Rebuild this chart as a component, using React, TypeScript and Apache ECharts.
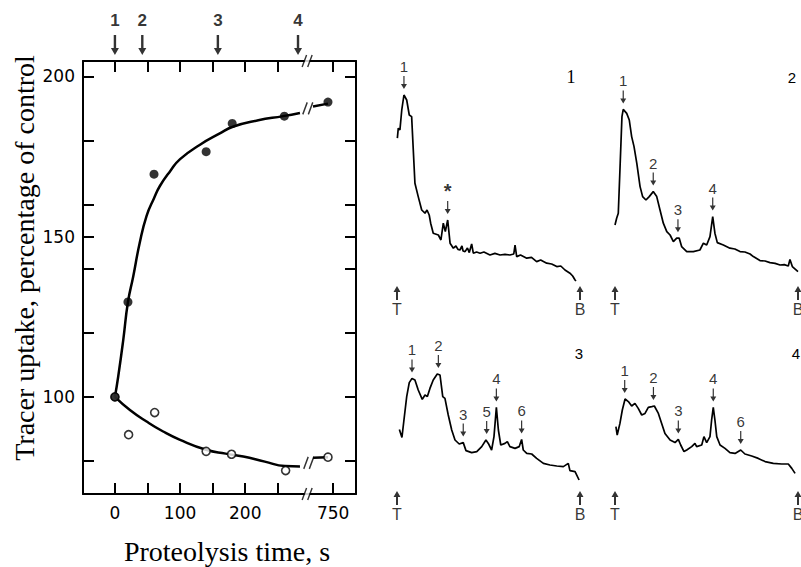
import React, { useEffect, useRef } from 'react';
import * as echarts from 'echarts';

// ---- Main panel data (proteolysis time in s, tracer uptake in % of control) ----
const filledTimes = [0, 20, 60, 140, 180, 260, 742];
const filledUptake = [100, 129.6, 169.5, 176.5, 185.3, 187.6, 192];
const openTimes = [0, 21, 61, 140, 179, 262, 742];
const openUptake = [100, 88.2, 95.1, 83, 82.1, 77, 81.2];

const filledFitTimes = [0, 5, 12.8, 20, 28, 38, 48.6, 60, 69, 85, 100, 130, 161, 181, 220, 258, 284, 719, 742];
const filledFitUptake = [100, 106.3, 117.8, 129.6, 137.5, 148, 156.5, 162, 165.8, 170.5, 174.2, 178.6, 182.2, 184.3, 186.3, 187.6, 188.6, 190.6, 191.5];
const openFitTimes = [0, 23, 48.6, 74, 100, 140, 170, 197, 230, 261, 284, 719, 742];
const openFitUptake = [100, 95.9, 92.3, 89.2, 86.6, 83.5, 82.3, 81.4, 79.8, 78.4, 78.3, 81, 81.2];

const sampleTimes = [0, 42, 158, 281];
const sampleLabels = ['1', '2', '3', '4'];

const xTickTimes = [0, 50, 100, 150, 200, 250, 750];
const xLabelTimes = [0, 100, 200, 750];
const yTickValues = [80, 100, 120, 140, 150, 160, 180, 200];
const yLabelValues = [100, 150, 200];

const Y_MIN = 69.7;
const Y_MAX = 204.8;

// break marks (display coordinate, value)
const frameBreakX = 295;
const filledBreakMark = [296, 190];
const openBreakMark = [297.5, 79.4];

// ---- Densitometer traces: [position T->B (0-100), signal] ----
const trace1 = [[0.2,73.4],[0.7,78.4],[1.6,77.5],[2.6,87.5],[3.8,95],[5.3,92.5],[6.7,85],[8.0,84.2],[8.9,67.5],[9.8,50.9],[11.6,44.2],[13.5,37.5],[15.3,35.9],[16.4,37.5],[17.6,35],[18.4,30.9],[19.8,25.9],[22.6,25],[24.0,22.5],[25.3,30.9],[26.4,26.7],[27.7,32.5],[29.0,20.9],[30.8,18.4],[32.2,19.5],[33.3,17.8],[34.4,17.5],[35.5,19.5],[36.1,17],[37.2,16.7],[38.5,18.5],[39.5,16.2],[40.8,20.5],[41.7,15.9],[43.5,16.5],[45.4,15.9],[47.5,16.5],[50.8,15],[53.5,15.8],[56.3,15],[59,15.3],[61.7,15],[63.8,15.5],[64.5,20],[65.4,14.2],[67.5,15],[70.9,13.4],[73.5,13.8],[76.3,11.7],[78.5,12.5],[81.8,10.9],[84.5,10.5],[87.3,9.2],[89.5,9.5],[91.8,7.5],[94.5,5.9],[96,4.5],[97.3,2.5],[97.8,2]];
const trace2 = [[0,30],[0.9,33.4],[1.8,35.9],[2.7,57.5],[3.8,84.2],[4.5,87.8],[6.4,85.8],[7.8,82.5],[9.1,74.2],[10.4,69.2],[11.9,60.9],[13.7,49.2],[15.1,44.2],[16.9,42.5],[18.7,44.2],[20.9,46.7],[22.8,44.2],[24.6,37.5],[26.4,30.9],[28.3,26.7],[30.1,25],[31.9,21.7],[33.7,23.4],[35.1,23.4],[36.4,19.2],[39.2,16.7],[42.8,16.7],[46.4,17.5],[48.3,20.9],[50.1,20],[51.9,24.2],[53.4,34.2],[54.6,25.9],[55.9,21.2],[59.2,20],[62.8,18.4],[65.5,18],[68.3,16.7],[71,16.5],[73.8,15.5],[75.6,14.2],[79.2,12.2],[82,12],[84.7,11.2],[87.5,10.8],[90.2,10],[92.5,10.2],[94.7,9.5],[95.6,12.8],[96.9,9.2],[100,6.7]];
const trace3 = [[1.3,30.3],[2.7,26.3],[3.8,35],[5.3,46.7],[6.7,53.7],[8.2,55.8],[9.8,55],[11.6,50],[13.8,45.3],[15.3,47.5],[16.6,46.7],[18.0,50.8],[19.8,55],[22.0,58],[23.5,57.5],[25.0,46.7],[26.2,45.8],[28.0,37.5],[29.9,30],[31.7,25],[34.0,23],[36.2,23.7],[37.7,19.7],[40.8,18.7],[43.6,19.2],[46.3,21.7],[48.6,25],[49.9,23.3],[51.7,20],[53.0,26.7],[54.3,41.3],[55.4,30],[56.7,22.5],[59.0,23.3],[60.3,24.2],[61.7,21.7],[64.5,20.8],[66.8,21.7],[68.1,25.3],[69.0,20],[70.9,18.3],[73.6,18],[76.3,15.8],[80.0,13.3],[83.6,12.5],[87.3,12],[90.9,11.7],[93.6,13.3],[94.5,9.7],[97.3,9.2],[99.5,5]];
const trace4 = [[0.5,31.7],[1.2,27.5],[2.7,33.3],[4.0,40],[5.5,45.5],[7.3,44.2],[9.1,42],[10.9,43.3],[12.7,40.8],[14.6,37.5],[16.4,38.3],[18.2,41.3],[20.1,41.7],[21.5,42],[23.7,38.3],[25.5,33.3],[27.3,28.3],[30.1,25],[32.8,23.7],[34.6,25.3],[35.9,22.5],[37.7,19.2],[39.2,20],[41.9,21.7],[43.7,23.3],[44.6,21.7],[47.4,22.5],[48.6,26.7],[50.1,23.7],[51.9,26.7],[52.8,35],[53.7,41.3],[54.6,35],[55.6,26.7],[57.4,22.5],[60.1,20.8],[62.8,18.7],[65.6,18.3],[68.7,20],[71.0,18],[74.7,17],[78.3,15.8],[82.0,14.2],[86.5,13.3],[91.1,13],[94.7,13],[96.6,10.8],[98.4,8.3]];

const peaks1 = [[3.8, 95, '1'], [27.7, 32.5, '*']];
const peaks2 = [[4.5, 87.8, '1'], [20.9, 46.7, '2'], [34.4, 23.4, '3'], [53.4, 34.2, '4']];
const peaks3 = [[8.2, 55.8, '1'], [22.6, 58, '2'], [36.2, 23.7, '3'], [49.0, 25, '5'], [54.3, 41.3, '4'], [68.1, 25.3, '6']];
const peaks4 = [[5.3, 45.5, '1'], [21, 42, '2'], [34.6, 25.3, '3'], [53.7, 41.3, '4'], [68.7, 20, '6']];

const panelNumbers = ['1', '2', '3', '4'];

const disp = (t: number) => (t > 300 ? 335 + (t - 750) : t);

const ARROW_DOWN = 'path://M2.8,0 L5.2,0 L5.2,13 L8,13 L4,20 L0,13 L2.8,13 Z';
const ARROW_DOWN_SMALL = 'path://M2.4,0 L3.6,0 L3.6,8 L6,8 L3,13 L0,8 L2.4,8 Z';
const ARROW_UP = 'path://M3.5,0 L7,6 L4.5,6 L4.5,14 L2.5,14 L2.5,6 L0,6 Z';
const SLASHES = 'path://M0,12 L4,0 M5,12 L9,0';

function fitData(times: number[], vals: number[]) {
  const out: any[] = [];
  times.forEach((t, i) => {
    if (i > 0 && times[i - 1] <= 300 && t > 300) out.push([null, null]);
    out.push([disp(t), vals[i]]);
  });
  return out;
}

const FONT_SANS = 'DejaVu Sans';
const BLACK = '#000000';

export default function App() {
  const ref = useRef<HTMLDivElement>(null);
  useEffect(() => {
    document.body.style.margin = '0';
    if (!ref.current) return;
    const chart = echarts.init(ref.current, undefined, { renderer: 'svg' });

    const panelGrids = [
      { left: 397, top: 85, width: 183, height: 200 },
      { left: 615, top: 85, width: 183, height: 200 },
      { left: 397, top: 290, width: 183, height: 200 },
      { left: 615, top: 290, width: 183, height: 200 },
    ];
    const traces = [trace1, trace2, trace3, trace4];
    const peaks = [peaks1, peaks2, peaks3, peaks4];

    const xLabelDisp = xLabelTimes.map(disp);

    const mainAxisLine = { show: true, onZero: false, lineStyle: { color: BLACK, width: 2 } };
    const tickStyle = { color: BLACK, width: 2 };

    const xAxes: any[] = [
      {
        type: 'value', gridIndex: 0, min: -49, max: 370, position: 'bottom',
        axisLine: mainAxisLine,
        axisTick: { show: true, inside: true, length: 11, customValues: xTickTimes.map(disp), lineStyle: tickStyle },
        axisLabel: {
          show: true, customValues: xLabelDisp, margin: 10, color: BLACK, fontSize: 17, fontFamily: FONT_SANS,
          formatter: (v: number) => {
            const i = xLabelDisp.findIndex((d) => Math.abs(d - v) < 0.01);
            return i >= 0 ? String(xLabelTimes[i]) : '';
          },
        },
        splitLine: { show: false },
      },
      {
        type: 'value', gridIndex: 0, min: -49, max: 370, position: 'top',
        axisLine: mainAxisLine,
        axisTick: { show: true, inside: true, length: 11, customValues: xTickTimes.map(disp), lineStyle: tickStyle },
        axisLabel: { show: false },
        splitLine: { show: false },
      },
    ];
    const yAxes: any[] = [
      {
        type: 'value', gridIndex: 0, min: Y_MIN, max: Y_MAX, position: 'left',
        axisLine: mainAxisLine,
        axisTick: { show: true, inside: true, length: 11, customValues: yTickValues, lineStyle: tickStyle },
        axisLabel: { show: true, customValues: yLabelValues, margin: 8, color: BLACK, fontSize: 17, fontFamily: FONT_SANS },
        splitLine: { show: false },
      },
      {
        type: 'value', gridIndex: 0, min: Y_MIN, max: Y_MAX, position: 'right',
        axisLine: mainAxisLine,
        axisTick: { show: true, inside: true, length: 11, customValues: yTickValues, lineStyle: tickStyle },
        axisLabel: { show: false },
        splitLine: { show: false },
      },
    ];
    panelGrids.forEach((_, i) => {
      xAxes.push({ type: 'value', gridIndex: i + 1, min: 0, max: 100, show: false });
      yAxes.push({ type: 'value', gridIndex: i + 1, min: 0, max: 100, show: false });
    });

    const series: any[] = [
      {
        type: 'line', xAxisIndex: 0, yAxisIndex: 0, data: fitData(filledFitTimes, filledFitUptake),
        smooth: 0.5, showSymbol: false, connectNulls: false, lineStyle: { color: BLACK, width: 2.5 }, z: 3,
      },
      {
        type: 'line', xAxisIndex: 0, yAxisIndex: 0, data: fitData(openFitTimes, openFitUptake),
        smooth: 0.5, showSymbol: false, connectNulls: false, lineStyle: { color: BLACK, width: 2.5 }, z: 3,
      },
      {
        type: 'scatter', xAxisIndex: 0, yAxisIndex: 0,
        data: openTimes.map((t, i) => [disp(t), openUptake[i]]),
        symbol: 'circle', symbolSize: 8,
        itemStyle: { color: '#fff', borderColor: BLACK, borderWidth: 1.6 }, z: 4,
      },
      {
        type: 'scatter', xAxisIndex: 0, yAxisIndex: 0,
        data: filledTimes.map((t, i) => [disp(t), filledUptake[i]]),
        symbol: 'circle', symbolSize: 9,
        itemStyle: { color: BLACK }, z: 5,
      },
      // sample arrows above plot
      {
        type: 'scatter', xAxisIndex: 0, yAxisIndex: 0, clip: false,
        data: sampleTimes.map((t, i) => ({ name: sampleLabels[i], value: [disp(t), Y_MAX] })),
        symbol: ARROW_DOWN, symbolSize: [8, 20], symbolOffset: [0, -16],
        itemStyle: { color: BLACK },
        label: { show: true, position: 'top', distance: 6, formatter: '{b}', color: BLACK, fontSize: 17, fontWeight: 'bold', fontFamily: 'Liberation Sans' },
        z: 6,
      },
      // white gaps at breaks
      {
        type: 'scatter', xAxisIndex: 0, yAxisIndex: 0, clip: false, silent: true,
        data: [[frameBreakX, Y_MAX], [frameBreakX, Y_MIN], filledBreakMark, openBreakMark],
        symbol: 'rect', symbolSize: [5, 7], itemStyle: { color: '#fff' }, z: 7,
      },
      {
        type: 'scatter', xAxisIndex: 0, yAxisIndex: 0, clip: false, silent: true,
        data: [[frameBreakX, Y_MAX], [frameBreakX, Y_MIN], filledBreakMark, openBreakMark],
        symbol: SLASHES, symbolSize: [10, 12],
        itemStyle: { color: 'rgba(0,0,0,0)', borderColor: BLACK, borderWidth: 1.6 }, z: 8,
      },
    ];

    traces.forEach((tr, i) => {
      const xi = i + 2;
      series.push({
        type: 'line', xAxisIndex: xi, yAxisIndex: xi, data: tr, showSymbol: false, clip: false,
        lineStyle: { color: BLACK, width: 1.7 }, z: 3,
      });
      series.push({
        type: 'scatter', xAxisIndex: xi, yAxisIndex: xi, clip: false,
        data: peaks[i].map((p) => ({
          name: p[2], value: [p[0], p[1]],
          ...(p[2] === '*' ? { label: { fontSize: 20, fontWeight: 'bold', distance: 0 } } : {}),
        })),
        symbol: ARROW_DOWN_SMALL, symbolSize: [6, 13], symbolOffset: [0, -12.5],
        itemStyle: { color: BLACK },
        label: { show: true, position: 'top', distance: 2, formatter: '{b}', color: BLACK, fontSize: 15, fontFamily: 'Liberation Sans' },
        z: 4,
      });
      series.push({
        type: 'scatter', xAxisIndex: xi, yAxisIndex: xi, clip: false,
        data: [{ name: 'T', value: [0, 0] }, { name: 'B', value: [100, 0] }],
        symbol: ARROW_UP, symbolSize: [7, 14], symbolOffset: [0, 8],
        itemStyle: { color: BLACK },
        label: { show: true, position: 'bottom', distance: 1, formatter: '{b}', color: BLACK, fontSize: 16, fontFamily: 'Liberation Sans' },
        z: 4,
      });
    });

    const panelLabelPos = [[571, 77], [792, 77], [579, 353], [796, 353]];

    const option: any = {
      animation: false,
      backgroundColor: '#fff',
      grid: [
        { left: 83, top: 61, width: 273, height: 433, show: false },
        ...panelGrids.map((g) => ({ ...g, show: false })),
      ],
      xAxis: xAxes,
      yAxis: yAxes,
      series,
      graphic: [
        {
          type: 'text', x: 24, y: 258, rotation: Math.PI / 2,
          style: { text: 'Tracer uptake, percentage of control', font: '28px "Liberation Serif"', fill: BLACK, align: 'center', verticalAlign: 'middle', textAlign: 'center', textVerticalAlign: 'middle' },
        },
        {
          type: 'text', x: 227, y: 551,
          style: { text: 'Proteolysis time, s', font: '28px "Liberation Serif"', fill: BLACK, align: 'center', verticalAlign: 'middle', textAlign: 'center', textVerticalAlign: 'middle' },
        },
        ...panelNumbers.map((n, i) => ({
          type: 'text', x: panelLabelPos[i][0], y: panelLabelPos[i][1],
          style: { text: n, font: i === 0 ? '18px "Liberation Serif"' : '15px "Liberation Sans"', fill: BLACK, align: 'center', verticalAlign: 'middle', textAlign: 'center', textVerticalAlign: 'middle' },
        })),
      ],
    };
    chart.setOption(option);
    return () => chart.dispose();
  }, []);
  return <div ref={ref} style={{ width: 801, height: 567 }} />;
}
